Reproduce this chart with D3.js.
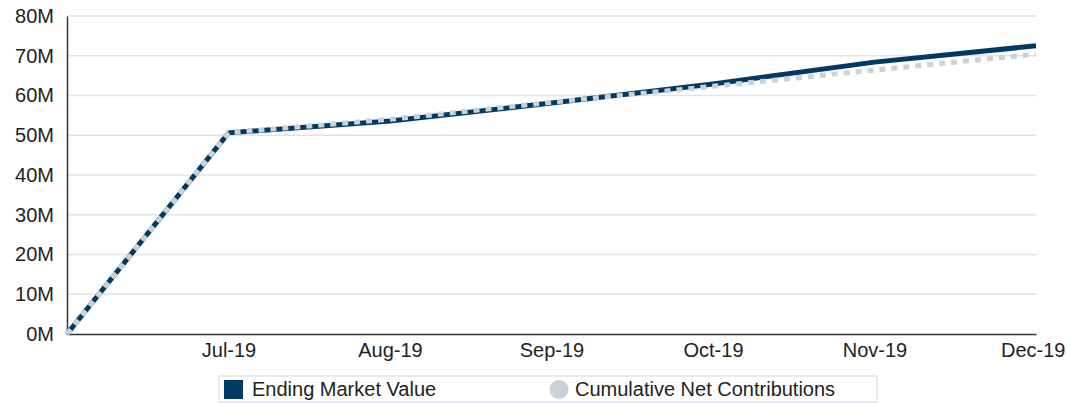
<!DOCTYPE html>
<html lang="en">
<head>
  <meta charset="UTF-8">
  <title>Market Value vs Contributions</title>
  <script src="https://d3js.org/d3.v7.min.js"></script>
  <style>
    body { margin: 0; font-family: "Liberation Sans", Arial, sans-serif; background: #fff; }
    text { font-size: 20px; fill: #222; }
    .grid line { stroke: #e2e2ea; stroke-width: 1.5px; }
  </style>
</head>
<body>
  <svg id="viz" width="1067" height="403"></svg>

  <script>
    const months = ["Jun-19", "Jul-19", "Aug-19", "Sep-19", "Oct-19", "Nov-19", "Dec-19"];
    const tickLabels = ["", "Jul-19", "Aug-19", "Sep-19", "Oct-19", "Nov-19", "Dec-19"];
    const endingMarketValue = [0, 50.6, 53.6, 58.1, 62.9, 68.4, 72.5];
    const cumulativeNetContributions = [0, 50.6, 54.0, 58.3, 62.3, 66.4, 70.4];
    const yTicks = [0, 10, 20, 30, 40, 50, 60, 70, 80];

    const svg = d3.select("#viz"),
          margin = { top: 16, right: 31, bottom: 69, left: 67 },
          width = +svg.attr("width") - margin.left - margin.right,
          height = +svg.attr("height") - margin.top - margin.bottom;

    const g = svg.append("g").attr("transform", `translate(${margin.left},${margin.top})`);

    const x = d3.scalePoint().domain(months).range([0, width]);
    const y = d3.scaleLinear().domain([0, 80]).range([height, 0]);

    // gridlines
    g.append("g").attr("class", "grid")
      .selectAll("line")
      .data(yTicks.filter(d => d > 0))
      .enter().append("line")
      .attr("x1", 0).attr("x2", width)
      .attr("y1", d => y(d)).attr("y2", d => y(d));

    // y axis
    const yAxis = g.append("g")
      .call(d3.axisLeft(y).tickValues(yTicks).tickSize(0).tickPadding(13).tickFormat(d => d + "M"));
    yAxis.select(".domain").attr("stroke", "#333").attr("stroke-width", 1.5);
    yAxis.selectAll("text").style("font-size", "20px").style("font-family", "Liberation Sans, Arial, sans-serif");

    // x axis
    const xAxis = g.append("g")
      .attr("transform", `translate(0,${height})`)
      .call(d3.axisBottom(x).tickSize(0).tickPadding(9).tickFormat((d, i) => tickLabels[i]));
    xAxis.select(".domain").attr("stroke", "#333").attr("stroke-width", 1.5);
    xAxis.selectAll("text").style("font-size", "20px").style("font-family", "Liberation Sans, Arial, sans-serif");
    // last label is pulled inside the right edge
    xAxis.selectAll(".tick text").filter(d => d === months[months.length - 1])
      .attr("text-anchor", "end").attr("dx", 29);

    const line = d3.line().x((d, i) => x(months[i])).y(d => y(d));

    g.append("path")
      .datum(endingMarketValue)
      .attr("fill", "none")
      .attr("stroke", "#003a63")
      .attr("stroke-width", 5)
      .attr("d", line);

    g.append("path")
      .datum(cumulativeNetContributions)
      .attr("fill", "none")
      .attr("stroke", "#c9d1d9")
      .attr("stroke-width", 5)
      .attr("stroke-dasharray", "6,6")
      .attr("d", line);

    // legend
    const legend = svg.append("g").attr("transform", "translate(219,376)");
    legend.append("rect")
      .attr("width", 658).attr("height", 26)
      .attr("fill", "#fff").attr("stroke", "#e2e2ea").attr("stroke-width", 1.5);
    legend.append("rect").attr("x", 5).attr("y", 4).attr("width", 19).attr("height", 19).attr("fill", "#003a63");
    legend.append("text").attr("x", 33).attr("y", 20).text("Ending Market Value");
    legend.append("circle").attr("cx", 340).attr("cy", 13.5).attr("r", 9.5).attr("fill", "#c9d1d9");
    legend.append("text").attr("x", 356).attr("y", 20).text("Cumulative Net Contributions");
  </script>
</body>
</html>
